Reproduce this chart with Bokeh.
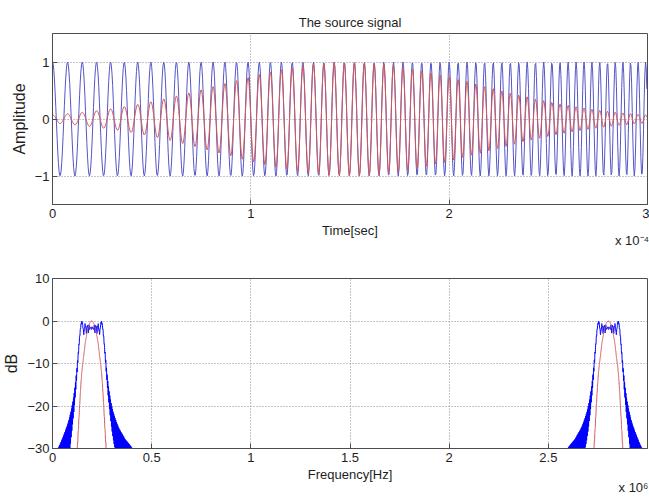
import numpy as np
from bokeh.plotting import figure
from bokeh.layouts import column
from bokeh.models import Range1d, FixedTicker, LinearAxis, CustomJSTickFormatter
from bokeh.embed import file_html
from bokeh.resources import INLINE

# ---- parameters ----
SAMPLE_RATE_HZ = 3.0e6          # mirror image centred at fs - 0.2 MHz
DURATION_S = 3.0e-4             # time axis 0 .. 3 x 10^-4 s
CHIRP_START_HZ = 130e3          # blue spectrum -6 dB edge ~0.13 MHz
CHIRP_END_HZ = 265e3            # blue spectrum -6 dB edge ~0.265 MHz
GAUSS_CENTER_S = 1.5e-4         # red envelope peaks mid-record
GAUSS_SIGMA_S = 6.5e-5          # red envelope ~0.07 at t=0, ~0.74 at t=1e-4
FFT_POINTS = 8192               # zero-padded spectrum (dense ripple in skirts)

time_ticks = [0, 1, 2, 3]
amp_ticks = [-1, 0, 1]
freq_ticks = [0, 0.5, 1, 1.5, 2, 2.5]
db_ticks = [-30, -20, -10, 0, 10]

TITLE = "The source signal"
XLABEL_TOP = "Time[sec]"
YLABEL_TOP = "Amplitude"
XLABEL_BOT = "Frequency[Hz]"
YLABEL_BOT = "dB"
XSCALE_TOP = "x 10\u207b\u2074"
XSCALE_BOT = "x 10\u2076"

# ---- signals ----
n = int(round(SAMPLE_RATE_HZ * DURATION_S))
t = np.arange(n) / SAMPLE_RATE_HZ
rate = (CHIRP_END_HZ - CHIRP_START_HZ) / DURATION_S
chirp = np.cos(2 * np.pi * (CHIRP_START_HZ * t + 0.5 * rate * t ** 2))
gauss = np.exp(-((t - GAUSS_CENTER_S) ** 2) / (2 * GAUSS_SIGMA_S ** 2))
windowed = chirp * gauss

freq = np.arange(FFT_POINTS) * SAMPLE_RATE_HZ / FFT_POINTS
spec_b = np.abs(np.fft.fft(chirp, FFT_POINTS))
spec_r = np.abs(np.fft.fft(windowed, FFT_POINTS))
db_b = 20 * np.log10(spec_b / spec_b.max() + 1e-12)
db_r = 20 * np.log10(spec_r / spec_r.max() + 1e-12)

FONT = "Liberation Sans"
BLUE = "#5555c8"
RED = "#d25a5a"
AXC = "#4d4d4d"
GRIDC = "#8c8c8c"
TXT = "#1e1e1e"


def style(p, xt, yt):
    p.outline_line_color = AXC
    p.outline_line_width = 1
    for ax in (p.xaxis[0], p.yaxis[0]):
        ax.axis_line_color = AXC
        ax.major_tick_line_color = AXC
        ax.major_tick_in = 5
        ax.major_tick_out = 0
        ax.minor_tick_line_color = None
        ax.major_label_text_font = FONT
        ax.major_label_text_font_size = "13px"
        ax.major_label_text_color = TXT
        ax.axis_label_text_font = FONT
        ax.axis_label_text_font_style = "normal"
        ax.axis_label_text_color = TXT
    p.xaxis[0].axis_label_text_font_size = "13px"
    p.yaxis[0].axis_label_text_font_size = "16px"
    p.xaxis[0].ticker = FixedTicker(ticks=xt)
    p.yaxis[0].ticker = FixedTicker(ticks=yt)
    p.xaxis[0].major_label_standoff = 4
    p.yaxis[0].major_label_standoff = 3
    p.xaxis[0].axis_label_standoff = 2
    p.yaxis[0].axis_label_standoff = 4
    for g in (p.xgrid[0], p.ygrid[0]):
        g.grid_line_color = GRIDC
        g.grid_line_dash = "1 2"
        g.grid_line_width = 1
    p.background_fill_color = "white"
    p.border_fill_color = "white"


def scale_axis(p, pos, text, standoff):
    ax = LinearAxis(ticker=FixedTicker(ticks=[pos]),
                    formatter=CustomJSTickFormatter(code="return '%s';" % text))
    ax.axis_line_color = None
    ax.major_tick_line_color = None
    ax.minor_tick_line_color = None
    ax.major_tick_in = 0
    ax.major_tick_out = 0
    ax.major_label_standoff = standoff
    ax.major_label_text_font = FONT
    ax.major_label_text_font_size = "13px"
    ax.major_label_text_color = TXT
    p.add_layout(ax, "below")


# ---- top plot ----
p1 = figure(width=649, height=250, output_backend="svg", toolbar_location=None,
            x_range=Range1d(0.0, 3.0), y_range=Range1d(-1.5, 1.5),
            min_border_left=49, min_border_right=2, min_border_top=33, min_border_bottom=45)
p1.x_range.end = round(DURATION_S * 1e4, 6)
p1.title.text = TITLE
p1.title.align = "center"
p1.title.text_font = FONT
p1.title.text_font_size = "13px"
p1.title.text_font_style = "normal"
p1.title.text_color = TXT
p1.title.standoff = 8
style(p1, time_ticks, amp_ticks)
p1.xaxis[0].axis_label = XLABEL_TOP
p1.yaxis[0].axis_label = YLABEL_TOP
p1.line(t * 1e4, chirp, line_color=BLUE, line_width=1)
p1.line(t * 1e4, windowed, line_color=RED, line_width=1)
scale_axis(p1, 2.922, XSCALE_TOP, -8)

# ---- bottom plot ----
p2 = figure(width=649, height=247, output_backend="svg", toolbar_location=None,
            x_range=Range1d(0, freq[-1] / 1e6), y_range=Range1d(-30, 10),
            min_border_left=49, min_border_right=2, min_border_top=28, min_border_bottom=49)
style(p2, freq_ticks, db_ticks)
p2.xaxis[0].axis_label = XLABEL_BOT
p2.yaxis[0].axis_label = YLABEL_BOT
p2.line(freq / 1e6, db_b, line_color="#0000ff", line_width=1)
p2.line(freq / 1e6, db_r, line_color=RED, line_width=1)
scale_axis(p2, 2.929, XSCALE_BOT, -5)

layout = column(p1, p2, spacing=0)
open("out.html", "w").write(file_html(layout, INLINE))
